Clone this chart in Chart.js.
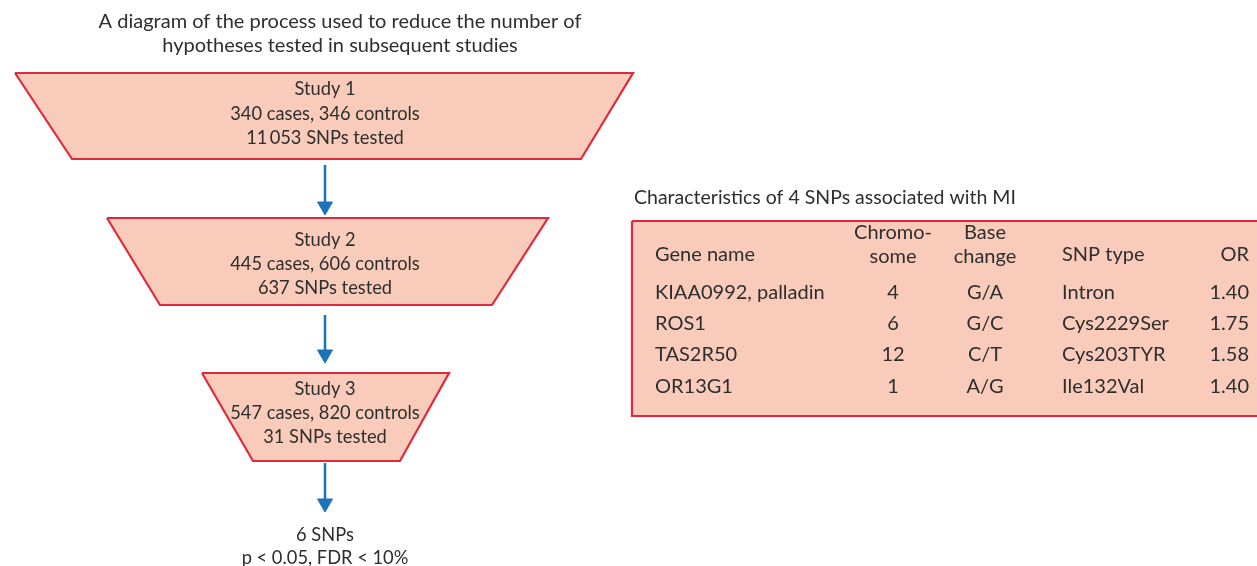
<!DOCTYPE html>
<html><head><meta charset="utf-8">
<script src="https://cdn.jsdelivr.net/npm/chart.js@4/dist/chart.umd.min.js"></script>
<style>html,body{margin:0;padding:0;background:#fff}#wrap{width:1257px;height:566px;position:relative}</style>
</head><body><div id="wrap"><canvas id="c"></canvas></div>
<script>
// ---- data ----
const titleLines = ["A diagram of the process used to reduce the number of", "hypotheses tested in subsequent studies"];
const studyNames = ["Study 1", "Study 2", "Study 3"];
const studyCases = [340, 445, 547];
const studyControls = [346, 606, 820];
const snpsTested = ["11\u2009053", "637", "31"];
const finalLines = ["6 SNPs", "p < 0.05, FDR < 10%"];
const tableTitle = "Characteristics of 4 SNPs associated with MI";
const headerLabels = [["Gene name"], ["Chromo-", "some"], ["Base", "change"], ["SNP type"], ["OR"]];
const geneNames = ["KIAA0992, palladin", "ROS1", "TAS2R50", "OR13G1"];
const chromosomes = ["4", "6", "12", "1"];
const baseChanges = ["G/A", "G/C", "C/T", "A/G"];
const snpTypes = ["Intron", "Cys2229Ser", "Cys203TYR", "Ile132Val"];
const oddsRatios = [1.40, 1.75, 1.58, 1.40];

// ---- layout (positions / styles) ----
const W = 1257, H = 566;
const CX = 325;
const traps = [
  {top: 73, bot: 159, tl: 15, tr: 633, bl: 72, br: 581},
  {top: 218, bot: 305, tl: 107, tr: 548, bl: 160, br: 492},
  {top: 373, bot: 461, tl: 202, tr: 449, bl: 253, br: 400}
];
const trapTextY = [[89, 114, 138], [240, 264, 288], [389, 413, 437]];
const arrows = [[165, 215], [315, 363], [463, 512]];
const titleY = [22, 46];
const finalY = [535, 558];
const box = {l: 632, r: 1259, t: 221, b: 416, sepY: 274, sepL: 650, sepR: 1252};
const tableTitlePos = {x: 634, y: 198};
const colX = [655, 893, 985, 1062, 1249];
const colAlign = ["left", "center", "center", "left", "right"];
const headY1 = 233, headY2 = 257, headSingle = 255;
const rowY = [293, 324, 355, 387];
const FILL = "#f9cbbb", RED = "#e2293b", BLUE = "#1c73ba", TXT = "#2e2e2e";
const FONT = "Lato, 'Open Sans', sans-serif";
const SZ_TITLE = 20, SZ_STUDY = 18.3, SZ_TTITLE = 19.5, SZ_TABLE = 20;

const datasets = [];
traps.forEach(t => {
  datasets.push({
    data: [{x: t.tl, y: t.top}, {x: t.tr, y: t.top}, {x: t.br, y: t.bot}, {x: t.bl, y: t.bot}, {x: t.tl, y: t.top}],
    showLine: true, fill: 'shape', backgroundColor: FILL, borderColor: RED, borderWidth: 2.2,
    pointRadius: 0, tension: 0, borderJoinStyle: 'miter'
  });
});
// table box
datasets.push({
  data: [{x: box.l, y: box.t}, {x: box.r, y: box.t}, {x: box.r, y: box.b}, {x: box.l, y: box.b}, {x: box.l, y: box.t}],
  showLine: true, fill: 'shape', backgroundColor: FILL, borderColor: RED, borderWidth: 2.2,
  pointRadius: 0, tension: 0, borderJoinStyle: 'miter'
});
datasets.push({
  data: [{x: box.sepL, y: box.sepY}, {x: box.sepR, y: box.sepY}],
  showLine: true, fill: false, borderColor: RED, borderWidth: 2.5, pointRadius: 0
});
arrows.forEach(a => {
  datasets.push({
    data: [{x: CX, y: a[0]}, {x: CX, y: a[1] - 6}],
    showLine: true, fill: false, borderColor: BLUE, borderWidth: 2.5, pointRadius: 0
  });
  datasets.push({
    data: [{x: CX - 7.5, y: a[1] - 13}, {x: CX + 7.5, y: a[1] - 13}, {x: CX, y: a[1]}, {x: CX - 7.5, y: a[1] - 13}],
    showLine: true, fill: 'shape', backgroundColor: BLUE, borderColor: BLUE, borderWidth: 1, pointRadius: 0
  });
});

const textPlugin = {
  id: 'texts',
  afterDatasetsDraw(chart) {
    const ctx = chart.ctx, xs = chart.scales.x, ys = chart.scales.y;
    const put = (s, x, y, align, size) => {
      ctx.font = size + "px " + FONT;
      ctx.textAlign = align;
      ctx.textBaseline = "middle";
      ctx.fillStyle = TXT;
      ctx.fillText(s, xs.getPixelForValue(x), ys.getPixelForValue(y));
    };
    ctx.save();
    titleLines.forEach((s, i) => put(s, 340, titleY[i], "center", SZ_TITLE));
    studyNames.forEach((n, i) => {
      put(n, CX, trapTextY[i][0], "center", SZ_STUDY);
      put(studyCases[i] + " cases, " + studyControls[i] + " controls", CX, trapTextY[i][1], "center", SZ_STUDY);
      put(snpsTested[i] + " SNPs tested", CX, trapTextY[i][2], "center", SZ_STUDY);
    });
    finalLines.forEach((s, i) => put(s, CX, finalY[i], "center", SZ_STUDY));
    put(tableTitle, tableTitlePos.x, tableTitlePos.y, "left", SZ_TTITLE);
    headerLabels.forEach((h, i) => {
      if (h.length === 1) put(h[0], colX[i], headSingle, colAlign[i], SZ_TABLE);
      else { put(h[0], colX[i], headY1, colAlign[i], SZ_TABLE); put(h[1], colX[i], headY2, colAlign[i], SZ_TABLE); }
    });
    geneNames.forEach((g, r) => {
      put(g, colX[0], rowY[r], colAlign[0], SZ_TABLE);
      put(chromosomes[r], colX[1], rowY[r], colAlign[1], SZ_TABLE);
      put(baseChanges[r], colX[2], rowY[r], colAlign[2], SZ_TABLE);
      put(snpTypes[r], colX[3], rowY[r], colAlign[3], SZ_TABLE);
      put(oddsRatios[r].toFixed(2), colX[4], rowY[r], colAlign[4], SZ_TABLE);
    });
    ctx.restore();
  }
};

new Chart(document.getElementById('c'), {
  type: 'scatter',
  data: {datasets},
  options: {
    responsive: true, maintainAspectRatio: false, animation: false,
    layout: {padding: 0},
    scales: {
      x: {type: 'linear', min: 0, max: W, display: false},
      y: {type: 'linear', min: 0, max: H, reverse: true, display: false}
    },
    plugins: {legend: {display: false}, tooltip: {enabled: false}},
    events: []
  },
  plugins: [textPlugin]
});
</script>
</body></html>
